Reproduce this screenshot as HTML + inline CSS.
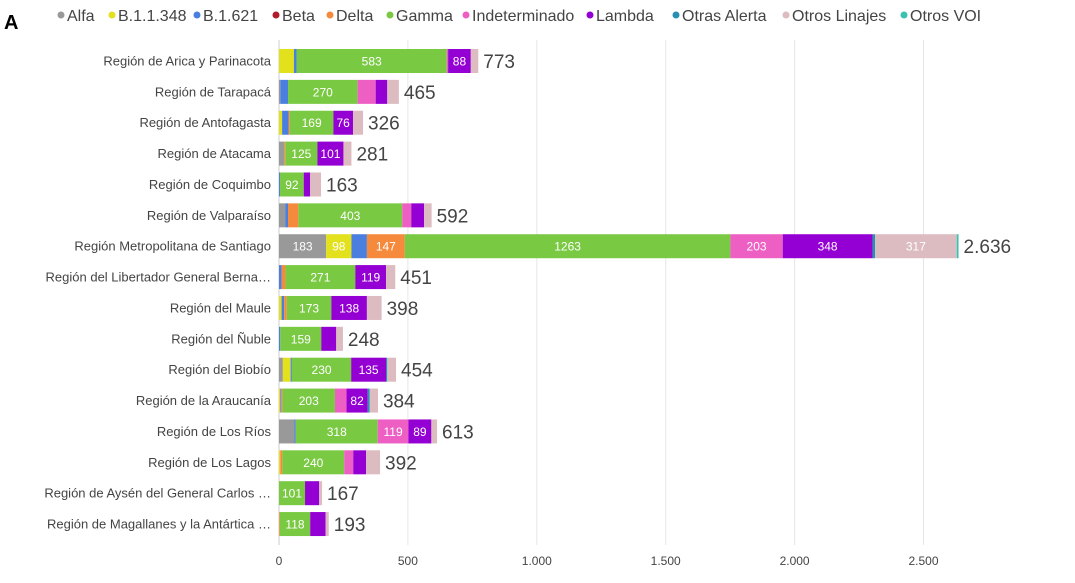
<!DOCTYPE html>
<html><head><meta charset="utf-8"><style>
html,body{margin:0;padding:0;background:#fff;width:1075px;height:583px;overflow:hidden}
svg{display:block;font-family:"Liberation Sans",sans-serif}
</style></head><body>
<svg id="s" width="1075" height="583" xmlns="http://www.w3.org/2000/svg">
<text x="4" y="29" font-size="20" font-weight="bold" fill="#000">A</text>
<g font-size="16" fill="#444">
<circle cx="61" cy="15" r="3.5" fill="#999"/><text x="67" y="21">Alfa</text>
<circle cx="112" cy="15" r="3.5" fill="#e3e01c"/><text x="118" y="21">B.1.1.348</text>
<circle cx="197" cy="15" r="3.5" fill="#4a7fe0"/><text x="203" y="21">B.1.621</text>
<circle cx="276" cy="15" r="3.5" fill="#b01c2a"/><text x="282" y="21">Beta</text>
<circle cx="330" cy="15" r="3.5" fill="#f58a3c"/><text x="336" y="21">Delta</text>
<circle cx="390" cy="15" r="3.5" fill="#7ac943"/><text x="396" y="21">Gamma</text>
<circle cx="466" cy="15" r="3.5" fill="#ee5fc4"/><text x="472" y="21">Indeterminado</text>
<circle cx="590" cy="15" r="3.5" fill="#9400d3"/><text x="596" y="21">Lambda</text>
<circle cx="676" cy="15" r="3.5" fill="#2a8fb0"/><text x="682" y="21">Otras Alerta</text>
<circle cx="786" cy="15" r="3.5" fill="#dcbcc0"/><text x="792" y="21">Otros Linajes</text>
<circle cx="904" cy="15" r="3.5" fill="#3cc0b0"/><text x="910" y="21">Otros VOI</text>
</g>
<g id="grid"></g>
<g id="bars"></g>
</svg>
<script>
var C={a:"#999999",y:"#e3e01c",b:"#4a7fe0",e:"#b01c2a",d:"#f58a3c",g:"#7ac943",i:"#ee5fc4",l:"#9400d3",t:"#2a8fb0",o:"#dcbcc0",v:"#3cc0b0"};
var rows=[
["Región de Arica y Parinacota",773,[["y",58],["b",10],["g",583],["i",5],["l",88]]],
["Región de Tarapacá",465,[["a",5],["b",30],["g",270],["i",70],["l",45]]],
["Región de Antofagasta",326,[["y",12],["b",25],["d",5],["g",169],["l",76]]],
["Región de Atacama",281,[["a",20],["d",4],["g",125],["l",101]]],
["Región de Coquimbo",163,[["b",4],["g",92],["l",25]]],
["Región de Valparaíso",592,[["a",25],["b",10],["d",40],["g",403],["i",35],["l",50]]],
["Región Metropolitana de Santiago",2636,[["a",183],["y",98],["b",60],["d",147],["g",1263],["i",203],["l",348],["t",10],["o",317],["v",7]]],
["Región del Libertador General Berna…",451,[["b",10],["d",15],["g",271],["l",119]]],
["Región del Maule",398,[["y",10],["b",10],["d",10],["g",173],["l",138]]],
["Región del Ñuble",248,[["b",5],["g",159],["l",58]]],
["Región del Biobío",454,[["a",15],["y",30],["b",5],["g",230],["l",135],["t",5]]],
["Región de la Araucanía",384,[["y",5],["b",4],["d",5],["g",203],["i",45],["l",82],["t",8]]],
["Región de Los Ríos",613,[["a",60],["b",5],["g",318],["i",119],["l",89]]],
["Región de Los Lagos",392,[["y",5],["d",8],["g",240],["i",35],["l",50]]],
["Región de Aysén del General Carlos …",167,[["g",101],["l",55]]],
["Región de Magallanes y la Antártica …",193,[["d",3],["g",118],["l",60]]]
];
var X0=279,K=0.2578,NS="http://www.w3.org/2000/svg";
function el(n,a,p,t){var e=document.createElementNS(NS,n);for(var k in a)e.setAttribute(k,a[k]);if(t!=null)e.textContent=t;p.appendChild(e);return e;}
var G=document.getElementById("grid"),B=document.getElementById("bars");
var ticks=[[0,"0"],[500,"500"],[1000,"1.000"],[1500,"1.500"],[2000,"2.000"],[2500,"2.500"]];
ticks.forEach(function(t){var x=X0+t[0]*K;el("line",{x1:x,x2:x,y1:40,y2:545,stroke:t[0]?"#e6e6e6":"#cccccc","stroke-width":1},G);
el("text",{x:x,y:565,"font-size":12,fill:"#444","text-anchor":"middle"},G,t[1]);});
rows.forEach(function(r,i){var cy=61+30.87*i;
el("text",{x:271,y:cy+4.5,"font-size":13,fill:"#444","text-anchor":"end"},B,r[0]);
var segs=r[2].slice(),s=0;segs.forEach(function(q){s+=q[1]});
if(r[1]-s>0&&!segs.some(function(q){return q[0]=="o"}))segs.push(["o",r[1]-s]);
var x=X0;segs.forEach(function(q){var w=q[1]*K;el("rect",{x:x,y:cy-12,width:w,height:24,fill:C[q[0]]},B);
if(q[1]>=76)el("text",{x:x+w/2,y:cy+4.5,"font-size":12,fill:"#fff","text-anchor":"middle"},B,q[1]);x+=w;});
el("text",{x:X0+r[1]*K+5,y:cy+7,"font-size":19,fill:"#444"},B,r[1]>=1000?"2.636":r[1]);
});
</script>
</body></html>
